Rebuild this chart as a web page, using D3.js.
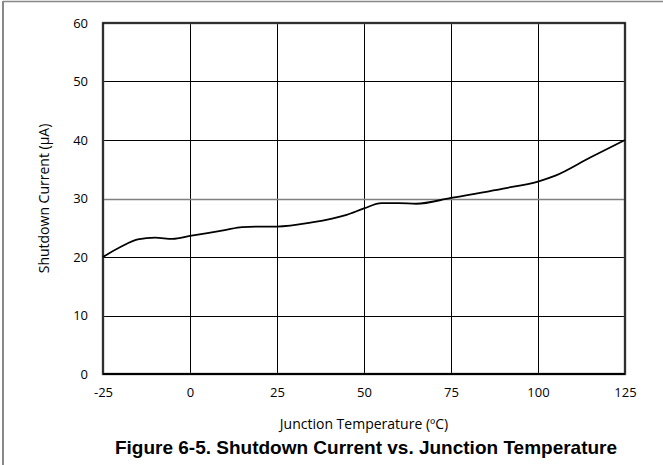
<!DOCTYPE html>
<html><head><meta charset="utf-8">
<script src="https://cdn.jsdelivr.net/npm/d3@7"></script>
<style>body{margin:0;background:#fff}svg{display:block}</style>
</head><body>
<script>
const temps = [-25,-20,-15,-10,-5,0,10,15,20,25,35,45,50,55,60,65,75,90,100,105,115,125];
const current = [20,21.7,23.0,23.3,23.1,23.6,24.6,25.1,25.2,25.2,25.9,27.2,28.3,29.2,29.2,29.1,30.1,31.7,32.9,33.9,37.0,40];
const xTicks = [-25,0,25,50,75,100,125];
const yTicks = [0,10,20,30,40,50,60];
const xTitle = "Junction Temperature (\u00BAC)";
const yTitle = "Shutdown Current (\u00B5A)";
const figTitle = "Figure 6-5. Shutdown Current vs. Junction Temperature";

const W = 663, H = 465;
const m = {l:103, r:38, t:23, b:91};
const svg = d3.select("body").append("svg").attr("width", W).attr("height", H);
// figure border
svg.append("line").attr("x1",3).attr("x2",3).attr("y1",1).attr("y2",H).attr("stroke","#888").attr("stroke-width",2);
svg.append("line").attr("x1",3).attr("x2",W).attr("y1",1.5).attr("y2",1.5).attr("stroke","#888").attr("stroke-width",1.5);

const x = d3.scaleLinear().domain([-25,125]).range([m.l, W-m.r]);
const y = d3.scaleLinear().domain([0,60]).range([H-m.b, m.t]);

const font = "'Open Sans', sans-serif";
// grid
const g = svg.append("g");
g.selectAll(".vg").data(xTicks.slice(1,-1)).join("line")
  .attr("x1",d=>Math.round(x(d))+0.5).attr("x2",d=>Math.round(x(d))+0.5)
  .attr("y1",y(0)).attr("y2",y(60)).attr("stroke","#000").attr("stroke-width",1);
g.selectAll(".hg").data(yTicks.slice(1,-1)).join("line")
  .attr("x1",x(-25)).attr("x2",x(125))
  .attr("y1",d=>Math.round(y(d))+0.5).attr("y2",d=>Math.round(y(d))+0.5)
  .attr("stroke",d=>d===30?"#808080":"#000").attr("stroke-width",d=>d===30?1.3:1);
// frame
svg.append("rect").attr("x",x(-25)).attr("y",y(60)).attr("width",x(125)-x(-25)).attr("height",y(0)-y(60))
  .attr("fill","none").attr("stroke","#777").attr("stroke-width",2.5);
svg.append("rect").attr("x",x(-25)).attr("y",y(60)).attr("width",x(125)-x(-25)).attr("height",y(0)-y(60))
  .attr("fill","none").attr("stroke","#000").attr("stroke-width",1.2);
svg.append("line").attr("x1",x(-25)).attr("x2",x(125)).attr("y1",y(0)).attr("y2",y(0)).attr("stroke","#000").attr("stroke-width",2);

// axes labels via d3 axes
const xa = svg.append("g").attr("transform",`translate(0,${y(0)})`)
  .call(d3.axisBottom(x).tickValues(xTicks).tickSize(0).tickPadding(14).tickFormat(d=>String(d)));
xa.select(".domain").remove();
xa.selectAll("text").attr("font-family",font).attr("font-size",13).attr("fill","#000");
const ya = svg.append("g").attr("transform",`translate(${x(-25)},0)`)
  .call(d3.axisLeft(y).tickValues(yTicks).tickSize(0).tickPadding(15).tickFormat(d=>String(d)));
ya.select(".domain").remove();
ya.selectAll("text").attr("font-family",font).attr("font-size",13).attr("fill","#000");

// line
const data = temps.map((t,i)=>({t, v: current[i]}));
svg.append("path").datum(data)
  .attr("d", d3.line().x(d=>x(d.t)).y(d=>y(d.v)).curve(d3.curveMonotoneX))
  .attr("fill","none").attr("stroke","#000").attr("stroke-width",1.8);

// titles
svg.append("text").attr("x",(x(-25)+x(125))/2).attr("y",429).attr("text-anchor","middle")
  .attr("font-family",font).attr("font-size",14).text(xTitle);
svg.append("text").attr("transform",`translate(49,${(y(0)+y(60))/2}) rotate(-90)`).attr("text-anchor","middle")
  .attr("font-family",font).attr("font-size",14).text(yTitle);
svg.append("text").attr("x",366).attr("y",454).attr("text-anchor","middle")
  .attr("font-family","'Liberation Sans', Arial, sans-serif").attr("font-weight","bold").attr("font-size",19).text(figTitle);
</script>
</body></html>
